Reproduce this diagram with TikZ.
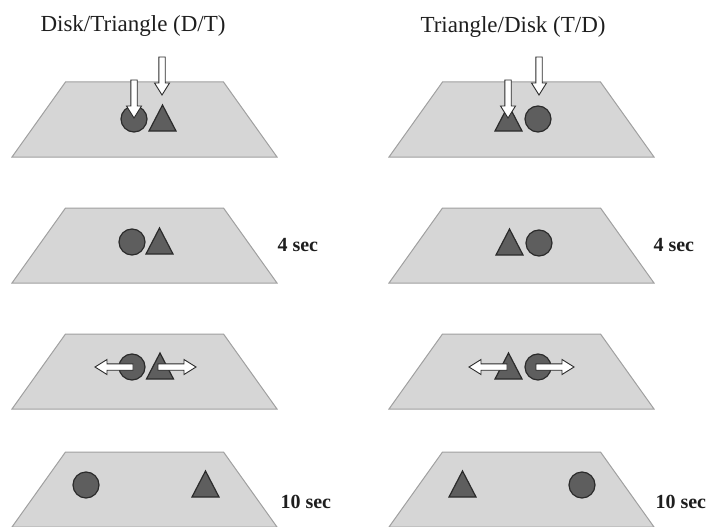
\documentclass[tikz,border=0pt]{standalone}
\usepackage{fontspec}
\setmainfont{Liberation Serif}
\definecolor{platefill}{HTML}{D6D6D6}
\definecolor{plateedge}{HTML}{A0A0A0}
\definecolor{objfill}{HTML}{5E5E5E}
\definecolor{objedge}{HTML}{2B2B2B}
\definecolor{inktext}{HTML}{1E1E1E}
\tikzset{
  plate/.style={fill=platefill,draw=plateedge,line width=1pt},
  obj/.style={fill=objfill,draw=objedge,line width=1.2pt},
  disk/.style={obj,circle,minimum size=26pt,inner sep=0pt},
  pushed/.pic={\draw[fill=white,draw=objedge,line width=0.9pt,line join=miter]
      (0,-3.2) -- (26,-3.2) -- (26,-7.5) -- (38,0) -- (26,7.5) -- (26,3.2) -- (0,3.2) -- cycle;},
  title/.style={anchor=base west,text=inktext,font=\fontsize{23}{26}\selectfont},
  timing/.style={anchor=base west,text=inktext,font=\fontsize{20}{24}\selectfont\bfseries}
}
\begin{document}
\begin{tikzpicture}[x=1pt,y=-1pt]
    \useasboundingbox (0,0) rectangle (707,527);

    % the four plates of each column
    \foreach \cx in {144.5,521.5}
      \foreach \ty in {82,208,334,452}
        \draw[plate] (\cx-79,\ty) -- (\cx+79,\ty) -- (\cx+132.5,\ty+75)
                     -- (\cx-132.5,\ty+75) -- cycle;

    \node[title] (dtlabel) at (37,32) {Disk/Triangle (D/T)};
    \node[title] (tdlabel) at (417,33) {Triangle/Disk (T/D)};

    % row 1: both objects pushed down
    \node[disk] (dtdiskA) at (134,119) {};
    \draw[obj] (162.5,105) -- ++(13.5,26) -- ++(-27,0) -- cycle;
    \draw[obj] (508.5,105) -- ++(13.5,26) -- ++(-27,0) -- cycle;
    \node[disk] (tddiskA) at (538,119) {};
    \pic[rotate=-90] at (134,80) {pushed};
    \pic[rotate=-90] at (162,57) {pushed};
    \pic[rotate=-90] at (508,80) {pushed};
    \pic[rotate=-90] at (539,57) {pushed};

    % row 2
    \node[disk] (dtdiskB) at (132,242) {};
    \draw[obj] (159.5,228) -- ++(13.5,26) -- ++(-27,0) -- cycle;
    \draw[obj] (509.5,229) -- ++(13.5,26) -- ++(-27,0) -- cycle;
    \node[disk] (tddiskB) at (539,243) {};
    \node[timing] (dtfour) at (274,251) {4 sec};
    \node[timing] (tdfour) at (650,251) {4 sec};

    % row 3: objects pulled apart
    \node[disk] (dtdiskC) at (132,367) {};
    \draw[obj] (160,353) -- ++(13.5,26) -- ++(-27,0) -- cycle;
    \draw[obj] (508.5,353) -- ++(13.5,26) -- ++(-27,0) -- cycle;
    \node[disk] (tddiskC) at (538,367) {};
    \pic[rotate=180] at (133,367) {pushed};
    \pic at (158,367) {pushed};
    \pic[rotate=180] at (507,367) {pushed};
    \pic at (536,367) {pushed};

    % row 4
    \node[disk] (dtdiskD) at (86,485) {};
    \draw[obj] (205.5,471) -- ++(13.5,26) -- ++(-27,0) -- cycle;
    \draw[obj] (462.5,471) -- ++(13.5,26) -- ++(-27,0) -- cycle;
    \node[disk] (tddiskD) at (582,485) {};
    \node[timing] (dtten) at (277,508) {10 sec};
    \node[timing] (tdten) at (652,508) {10 sec};

\end{tikzpicture}
\end{document}
